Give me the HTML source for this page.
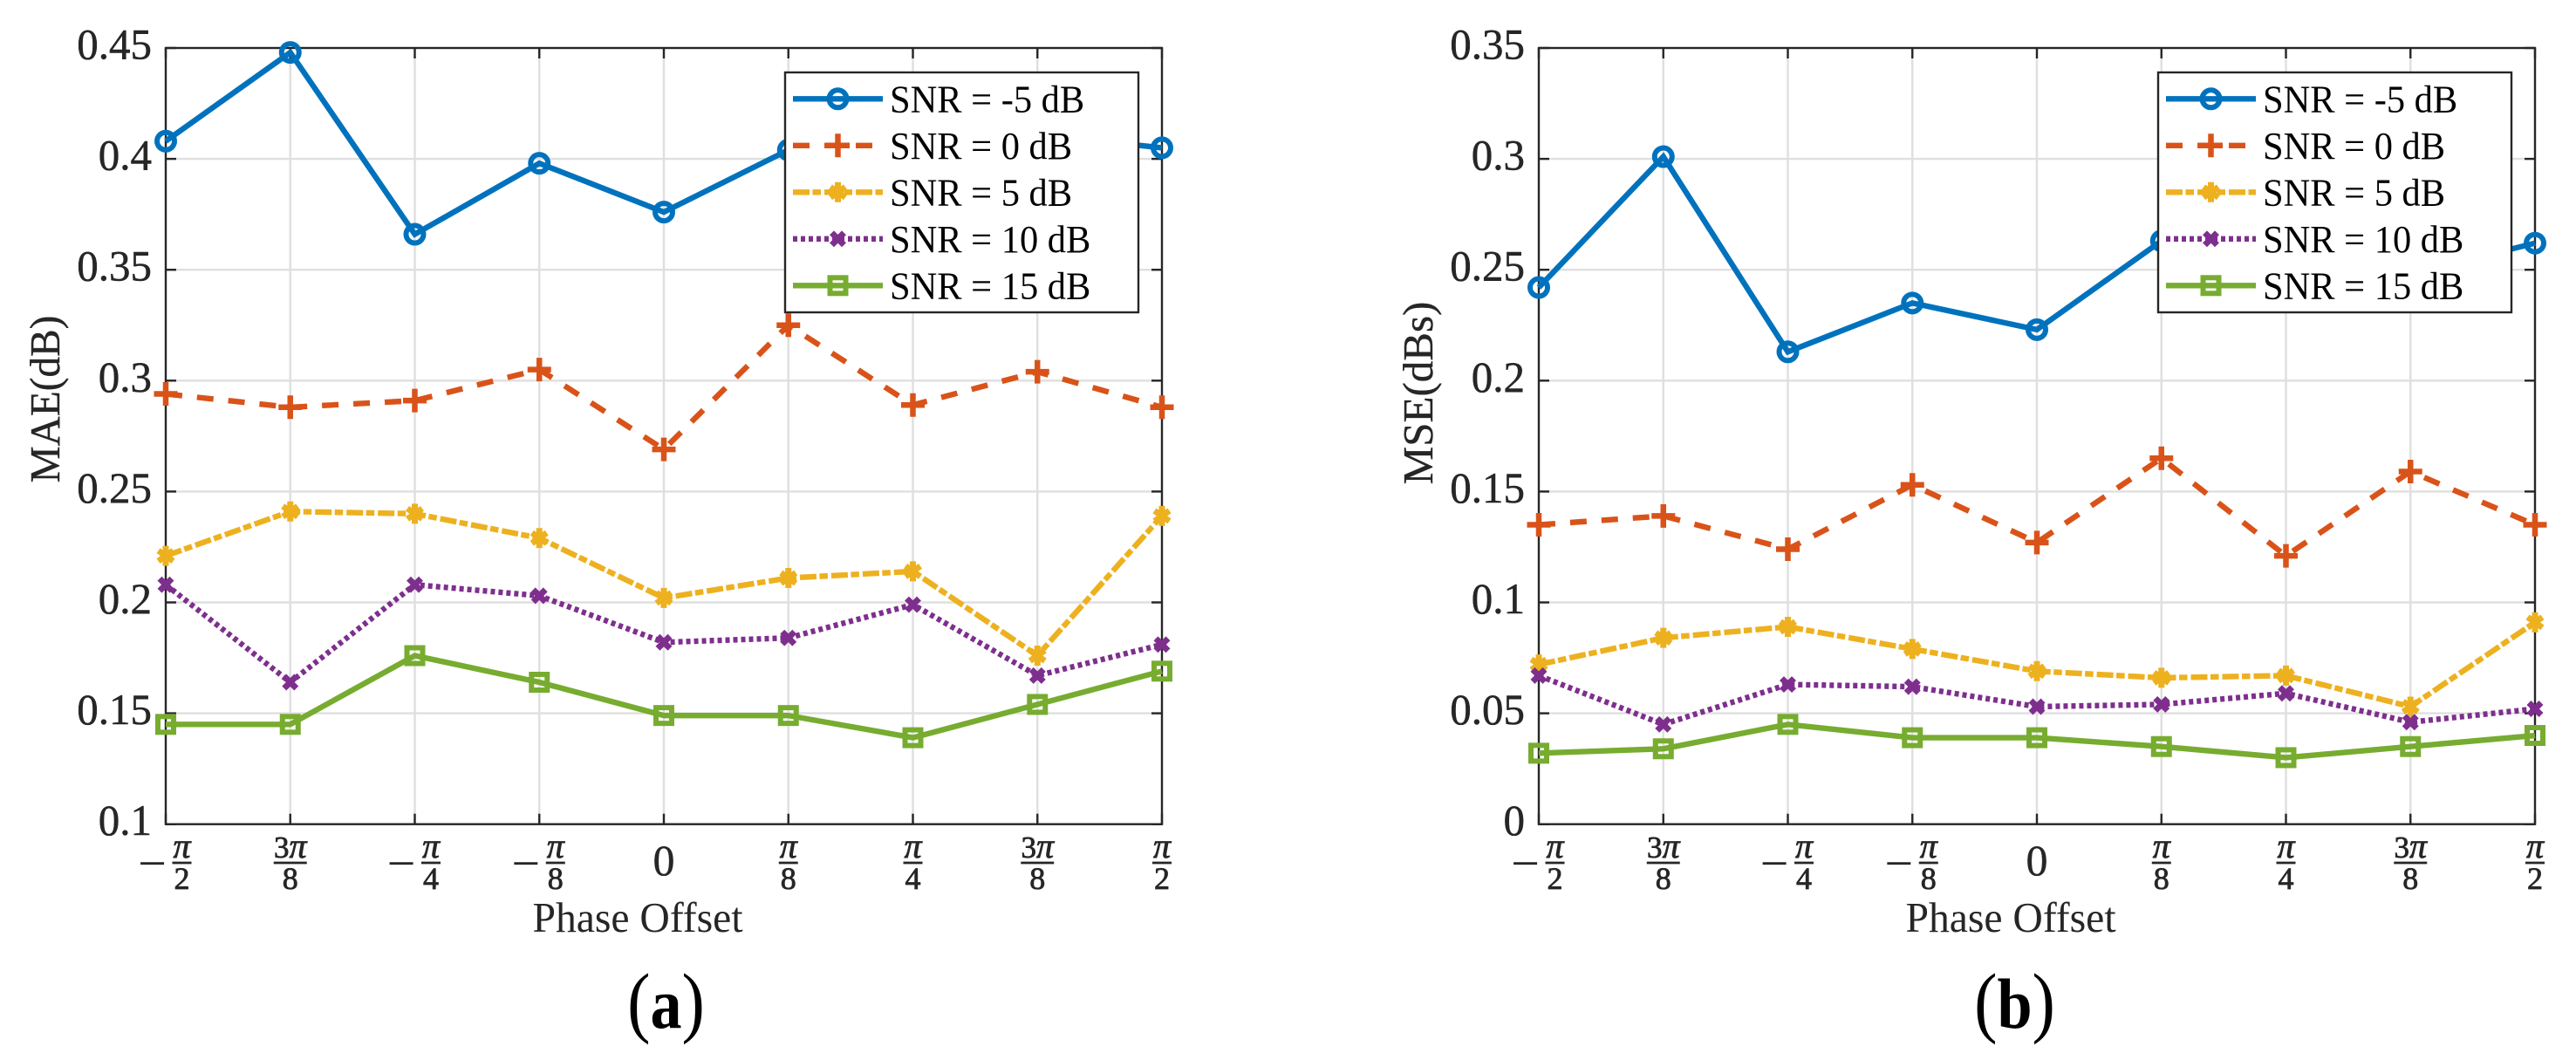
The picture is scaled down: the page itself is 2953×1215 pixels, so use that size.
<!DOCTYPE html>
<html lang="en">
<head>
<meta charset="utf-8">
<title>MAE and MSE versus phase offset</title>
<style>
html,body{margin:0;padding:0;background:#fff;width:2953px;height:1215px;overflow:hidden}
svg{display:block}
text{font-family:"Liberation Serif","DejaVu Serif",serif}
</style>
</head>
<body>
<svg id="figure" xmlns="http://www.w3.org/2000/svg" width="2953" height="1215" viewBox="0 0 2953 1215"></svg>
<script>
// Chart data
const phaseEighths = [-4, -3, -2, -1, 0, 1, 2, 3, 4];
const phaseLabels = ['-π/2', '3π/8', '-π/4', '-π/8', '0', 'π/8', 'π/4', '3π/8', 'π/2'];
const snrNames = ['SNR = -5 dB', 'SNR = 0 dB', 'SNR = 5 dB', 'SNR = 10 dB', 'SNR = 15 dB'];

const maeTickLabels = ['0.1', '0.15', '0.2', '0.25', '0.3', '0.35', '0.4', '0.45'];
const maeSnrMinus5 = [0.408, 0.448, 0.366, 0.398, 0.376, 0.404, 0.406, 0.411, 0.405];
const maeSnr0 = [0.294, 0.288, 0.291, 0.305, 0.269, 0.325, 0.289, 0.304, 0.288];
const maeSnr5 = [0.221, 0.241, 0.240, 0.229, 0.202, 0.211, 0.214, 0.176, 0.239];
const maeSnr10 = [0.208, 0.164, 0.208, 0.203, 0.182, 0.184, 0.199, 0.167, 0.181];
const maeSnr15 = [0.145, 0.145, 0.176, 0.164, 0.149, 0.149, 0.139, 0.154, 0.169];

const mseTickLabels = ['0', '0.05', '0.1', '0.15', '0.2', '0.25', '0.3', '0.35'];
const mseSnrMinus5 = [0.242, 0.301, 0.213, 0.235, 0.223, 0.263, 0.272, 0.248, 0.262];
const mseSnr0 = [0.135, 0.139, 0.124, 0.153, 0.127, 0.165, 0.121, 0.159, 0.135];
const mseSnr5 = [0.072, 0.084, 0.089, 0.079, 0.069, 0.066, 0.067, 0.053, 0.091];
const mseSnr10 = [0.067, 0.045, 0.063, 0.062, 0.053, 0.054, 0.059, 0.046, 0.052];
const mseSnr15 = [0.032, 0.034, 0.045, 0.039, 0.039, 0.035, 0.030, 0.035, 0.040];

const maeSeries = [maeSnrMinus5, maeSnr0, maeSnr5, maeSnr10, maeSnr15];
const mseSeries = [mseSnrMinus5, mseSnr0, mseSnr5, mseSnr10, mseSnr15];

const NS = 'http://www.w3.org/2000/svg';
const INK = '#262626';
const GRID = '#dfdfdf';
const colors = ['#0072BD', '#D95319', '#EDB120', '#7E2F8E', '#77AC30'];
const dashes = ['none', '19 17', '19 3.5 9.5 4', '5 4', 'none'];
const markerKinds = ['circle', 'plus', 'star', 'cross', 'square'];
const seriesKeys = ['snr-minus-5', 'snr-0', 'snr-5', 'snr-10', 'snr-15'];
const figure = document.getElementById('figure');

function make(parent, tag, attrs) {
  const el = document.createElementNS(NS, tag);
  for (const k in attrs) el.setAttribute(k, attrs[k]);
  parent.appendChild(el);
  return el;
}

function label(parent, x, y, str, size, opts) {
  const o = opts || {};
  const sx = o.sx || 1;
  const rot = o.rot ? ' rotate(' + o.rot + ')' : '';
  const el = make(parent, 'text', {
    transform: 'translate(' + x + ',' + y + ')' + rot + ' scale(' + sx + ',1)',
    'font-size': size,
    'text-anchor': o.anchor || 'start',
    fill: o.fill || INK
  });
  if (o.weight) el.setAttribute('font-weight', o.weight);
  if (o.stroke) {
    el.setAttribute('stroke', o.fill || INK);
    el.setAttribute('stroke-width', o.stroke);
  }
  el.textContent = str;
  return el;
}

function drawMarker(parent, kind, x, y, color) {
  let el;
  if (kind === 'circle') {
    el = make(parent, 'circle', {cx: x, cy: y, r: 10, fill: 'none', stroke: color, 'stroke-width': 6});
  } else if (kind === 'square') {
    el = make(parent, 'rect', {x: x - 9, y: y - 9, width: 18, height: 18, fill: 'none', stroke: color, 'stroke-width': 6});
  } else {
    let d = '';
    let w = 6.5;
    if (kind === 'plus') {
      d = 'M' + (x - 13.5) + ' ' + y + 'H' + (x + 13.5) + 'M' + x + ' ' + (y - 13.5) + 'V' + (y + 13.5);
    } else if (kind === 'star') {
      d = 'M' + x + ' ' + (y - 11.5) + 'V' + (y + 11.5) +
          'M' + (x - 8.5) + ' ' + (y - 6) + 'L' + (x + 8.5) + ' ' + (y + 6) +
          'M' + (x - 8.5) + ' ' + (y + 6) + 'L' + (x + 8.5) + ' ' + (y - 6);
      w = 7;
    } else {
      d = 'M' + (x - 7) + ' ' + (y - 7) + 'L' + (x + 7) + ' ' + (y + 7) +
          'M' + (x - 7) + ' ' + (y + 7) + 'L' + (x + 7) + ' ' + (y - 7);
      w = 7;
    }
    el = make(parent, 'path', {d: d, fill: 'none', stroke: color, 'stroke-width': w});
  }
  return el;
}

function drawFractionLabel(parent, x, text) {
  const negative = text.charAt(0) === '-';
  const body = negative ? text.slice(1) : text;
  if (body.indexOf('/') < 0) {
    const zero = label(parent, x, 1003, body, 50, {anchor: 'middle', sx: 1, stroke: 0.4});
    
    
    return;
  }
  const parts = body.split('/');
  const cx = negative ? x + 18.5 : x;
  if (negative) {
    const minus = label(parent, x - 15.5, 1009, '−', 58, {anchor: 'middle'});
    
    
  }
  const num = make(parent, 'text', {x: cx, y: 983, 'text-anchor': 'middle', fill: INK, stroke: INK, 'stroke-width': 0.8, 'font-size': 35});
  
  
  const coef = parts[0].replace('π', '');
  if (coef) {
    const t = make(num, 'tspan', {});
    t.textContent = coef;
  }
  const pi = make(num, 'tspan', {'font-style': 'italic', 'font-size': 40});
  pi.textContent = 'π';
  const half = coef ? 19 : 11;
  const rule = make(parent, 'line', {x1: cx - half, x2: cx + half, y1: 989, y2: 989, stroke: INK, 'stroke-width': 2.8});
  
  
  const den = label(parent, cx, 1019, parts[1], 36, {anchor: 'middle', stroke: 0.8});
  
  
}

function drawPanel(cfg) {
  const left = cfg.left, right = left + 1142, top = 55, bottom = 944.7;
  const yMin = parseFloat(cfg.ticks[0]);
  const yMax = parseFloat(cfg.ticks[cfg.ticks.length - 1]);
  const xScale = v => left + (v - phaseEighths[0]) / (phaseEighths[phaseEighths.length - 1] - phaseEighths[0]) * (right - left);
  const yScale = v => bottom - (v - yMin) / (yMax - yMin) * (bottom - top);

  const panel = make(figure, 'g', {});
  
  

  // grid
  const grid = make(panel, 'g', {stroke: GRID, 'stroke-width': 2.4});
  
  
  phaseEighths.slice(1, -1).forEach(v => {
    const g = make(grid, 'line', {x1: xScale(v), x2: xScale(v), y1: top, y2: bottom});
    
    
  });
  cfg.ticks.slice(1, -1).forEach(t => {
    const g = make(grid, 'line', {x1: left, x2: right, y1: yScale(parseFloat(t)), y2: yScale(parseFloat(t))});
    
    
  });

  // ticks
  const ticks = make(panel, 'g', {stroke: INK, 'stroke-width': 2.4});
  
  
  phaseEighths.forEach(v => {
    const a = make(ticks, 'line', {x1: xScale(v), x2: xScale(v), y1: bottom, y2: bottom - 12});
    
    
    const b = make(ticks, 'line', {x1: xScale(v), x2: xScale(v), y1: top, y2: top + 12});
    
    
  });
  cfg.ticks.forEach(t => {
    const y = yScale(parseFloat(t));
    const a = make(ticks, 'line', {x1: left, x2: left + 12, y1: y, y2: y});
    
    
    const b = make(ticks, 'line', {x1: right, x2: right - 12, y1: y, y2: y});
    
    
  });

  // box
  const box = make(panel, 'rect', {x: left, y: top, width: right - left, height: bottom - top, fill: 'none', stroke: INK, 'stroke-width': 2.4});
  
  

  // y tick labels
  cfg.ticks.forEach(t => {
    const el = label(panel, left - 16, yScale(parseFloat(t)) + 12.5, t, 50, {anchor: 'end', sx: 0.98, stroke: 0.5});
    
    
  });

  // x tick labels
  phaseEighths.forEach((v, i) => drawFractionLabel(panel, xScale(v), phaseLabels[i]));

  // axis titles
  const xt = label(panel, left + 541, 1068, 'Phase Offset', 49, {anchor: 'middle', sx: 0.972});
  
  
  const yt = label(panel, left - 122, cfg.yTitleY, cfg.yTitle, 49, {anchor: 'middle', rot: -90, sx: cfg.yTitleScale, stroke: 0.4});
  
  

  // series
  cfg.series.forEach((values, s) => {
    const group = make(panel, 'g', {});
    
    
    const pts = values.map((v, i) => xScale(phaseEighths[i]) + ',' + yScale(v)).join(' ');
    const line = make(group, 'polyline', {points: pts, fill: 'none', stroke: colors[s], 'stroke-width': 6.4, 'stroke-linejoin': 'miter'});
    if (dashes[s] !== 'none') line.setAttribute('stroke-dasharray', dashes[s]);
    
    
    values.forEach((v, i) => {
      const m = drawMarker(group, markerKinds[s], xScale(phaseEighths[i]), yScale(v), colors[s]);
      
      
    });
  });

  // legend
  const legend = make(panel, 'g', {});
  
  
  const lx = left + 710;
  const frame = make(legend, 'rect', {x: lx, y: 83, width: 405, height: 275, fill: '#fff', stroke: INK, 'stroke-width': 2.4});
  
  
  snrNames.forEach((name, s) => {
    const y = 113.3 + s * 53.5;
    const entry = make(legend, 'g', {});
    
    
    const ln = make(entry, 'line', {x1: lx + 9, x2: lx + 112, y1: y, y2: y, stroke: colors[s], 'stroke-width': 6.4});
    if (dashes[s] !== 'none') ln.setAttribute('stroke-dasharray', dashes[s]);
    
    
    const mk = drawMarker(entry, markerKinds[s], lx + 60.5, y, colors[s]);
    
    
    const tx = label(entry, lx + 120, y + 15, name, 44, {fill: '#000', sx: 0.965});
    
    
  });

  // caption
  const cap = make(panel, 'text', {transform: 'translate(' + (left + cfg.capOffset) + ',1178) scale(0.88,1)', 'text-anchor': 'middle', fill: '#000', 'font-size': 90});
  
  
  const open = make(cap, 'tspan', {});
  open.textContent = '(';
  const letter = make(cap, 'tspan', {'font-weight': 'bold', 'font-size': 82});
  letter.textContent = cfg.letter;
  const close = make(cap, 'tspan', {});
  close.textContent = ')';
}

drawPanel({
  name: 'mae-panel', left: 190, ticks: maeTickLabels, series: maeSeries,
  yTitle: 'MAE(dB)', yTitleY: 457.5, yTitleScale: 0.965, letter: 'a', capOffset: 573.5
});
drawPanel({
  name: 'mse-panel', left: 1764, ticks: mseTickLabels, series: mseSeries,
  yTitle: 'MSE(dBs)', yTitleY: 450.5, yTitleScale: 1, letter: 'b', capOffset: 545.5
});
</script>
</body>
</html>
